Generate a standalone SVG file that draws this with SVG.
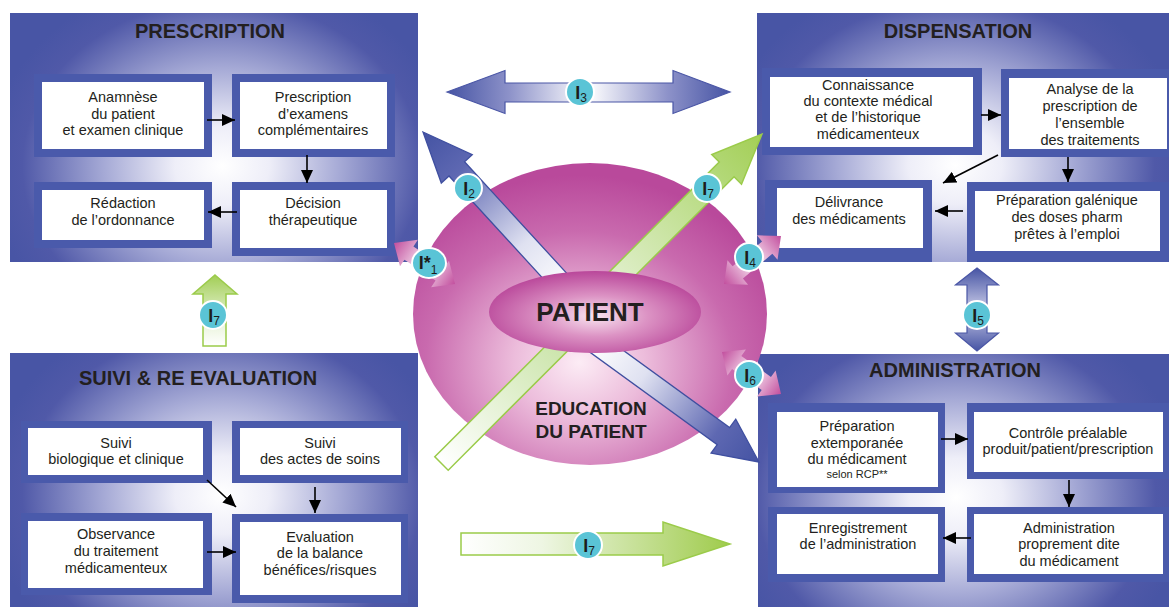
<svg xmlns="http://www.w3.org/2000/svg" width="1169" height="607" viewBox="0 0 1169 607">
<style>
.title{font-family:"Liberation Sans",Arial,sans-serif;font-weight:bold;font-size:20px;fill:#231f20;text-anchor:middle}
.lbl{font-family:"Liberation Sans",Arial,sans-serif;font-size:14.5px;fill:#231f20;text-anchor:middle}
.small{font-size:11px}
.frame{fill:#4a5aab}
.inner{fill:#ffffff}
.flow{stroke:#000;stroke-width:1.6;fill:none;marker-end:url(#ah)}
.badge{fill:#5ac4d6;stroke:#ffffff;stroke-width:2}
.btxt{font-family:"Liberation Sans",Arial,sans-serif;font-weight:bold;font-size:18px;fill:#1d1d1b;text-anchor:middle}
.sub{font-size:12px;font-weight:normal}
.big{font-family:"Liberation Sans",Arial,sans-serif;font-weight:bold;fill:#231f20;text-anchor:middle}
</style>
<defs>
<marker id="ah" viewBox="0 0 13 12" refX="13" refY="6" markerWidth="13" markerHeight="12" markerUnits="userSpaceOnUse" orient="auto">
<path d="M0,0 L13,6 L0,12 Z" fill="#000"/>
</marker>
<radialGradient id="g1" gradientUnits="userSpaceOnUse" cx="0" cy="0" r="1" gradientTransform="translate(222 166) scale(235 195)">
<stop offset="0" stop-color="#ffffff"/><stop offset="0.2" stop-color="#eeeef8"/><stop offset="0.5" stop-color="#a6aad6"/><stop offset="0.85" stop-color="#5059a8"/><stop offset="1" stop-color="#4855a5"/>
</radialGradient>
<radialGradient id="g2" gradientUnits="userSpaceOnUse" cx="0" cy="0" r="1" gradientTransform="translate(955 165) scale(235 195)">
<stop offset="0" stop-color="#ffffff"/><stop offset="0.2" stop-color="#eeeef8"/><stop offset="0.5" stop-color="#a6aad6"/><stop offset="0.85" stop-color="#5059a8"/><stop offset="1" stop-color="#4855a5"/>
</radialGradient>
<radialGradient id="g3" gradientUnits="userSpaceOnUse" cx="0" cy="0" r="1" gradientTransform="translate(222 495) scale(235 195)">
<stop offset="0" stop-color="#ffffff"/><stop offset="0.2" stop-color="#eeeef8"/><stop offset="0.5" stop-color="#a6aad6"/><stop offset="0.85" stop-color="#5059a8"/><stop offset="1" stop-color="#4855a5"/>
</radialGradient>
<radialGradient id="g4" gradientUnits="userSpaceOnUse" cx="0" cy="0" r="1" gradientTransform="translate(956 497) scale(235 195)">
<stop offset="0" stop-color="#ffffff"/><stop offset="0.2" stop-color="#eeeef8"/><stop offset="0.5" stop-color="#a6aad6"/><stop offset="0.85" stop-color="#5059a8"/><stop offset="1" stop-color="#4855a5"/>
</radialGradient>
<radialGradient id="gCircle" cx="0.47" cy="0.66" r="0.62">
<stop offset="0" stop-color="#fcecf5"/><stop offset="0.3" stop-color="#ecbcdb"/><stop offset="0.7" stop-color="#c96aae"/><stop offset="1" stop-color="#b9499b"/>
</radialGradient>
<radialGradient id="gPat" cx="0.5" cy="0.55" r="0.55">
<stop offset="0" stop-color="#f8e4f0"/><stop offset="0.45" stop-color="#dc93c4"/><stop offset="1" stop-color="#b9479a"/>
</radialGradient>
<linearGradient id="gBlueA" x1="0" y1="0" x2="1" y2="0">
<stop offset="0" stop-color="#4453a3"/><stop offset="0.25" stop-color="#5e68b2"/><stop offset="0.7" stop-color="#dfe1f1"/><stop offset="1" stop-color="#ffffff"/>
</linearGradient>
<linearGradient id="gGreenA" x1="0" y1="0" x2="1" y2="0">
<stop offset="0" stop-color="#a3ce55"/><stop offset="0.3" stop-color="#b4d97a"/><stop offset="1" stop-color="#e2f0cf"/>
</linearGradient>
<linearGradient id="gGreenBar" x1="0" y1="0" x2="1" y2="0">
<stop offset="0" stop-color="#ffffff"/><stop offset="1" stop-color="#c6e2a2"/>
</linearGradient>
<linearGradient id="gGreenH" x1="0" y1="0" x2="1" y2="0">
<stop offset="0" stop-color="#ffffff"/><stop offset="0.3" stop-color="#eef6e3"/><stop offset="1" stop-color="#9fcb4c"/>
</linearGradient>
<linearGradient id="gGreenV" x1="0" y1="1" x2="0" y2="0">
<stop offset="0" stop-color="#ffffff"/><stop offset="0.4" stop-color="#e4f1d2"/><stop offset="1" stop-color="#a2ce55"/>
</linearGradient>
<linearGradient id="gBlueH" x1="0" y1="0" x2="1" y2="0">
<stop offset="0" stop-color="#4654a4"/><stop offset="0.22" stop-color="#8d92c9"/><stop offset="0.5" stop-color="#ffffff"/><stop offset="0.78" stop-color="#8d92c9"/><stop offset="1" stop-color="#4654a4"/>
</linearGradient>
<linearGradient id="gBlueV" x1="0" y1="0" x2="0" y2="1">
<stop offset="0" stop-color="#4654a4"/><stop offset="0.5" stop-color="#c9cbe7"/><stop offset="1" stop-color="#4654a4"/>
</linearGradient>
<linearGradient id="gPink" x1="0" y1="0" x2="1" y2="0">
<stop offset="0" stop-color="#c24f9e"/><stop offset="0.5" stop-color="#fbeef6"/><stop offset="1" stop-color="#c24f9e"/>
</linearGradient>
</defs>

<rect width="1169" height="607" fill="#ffffff"/>

<!-- PRESCRIPTION -->
<g id="prescription">
<rect x="10" y="13" width="408" height="249" fill="url(#g1)"/>
<text class="title" x="210" y="38">PRESCRIPTION</text>
<g id="p-anamnese"><rect class="frame" x="34" y="74" width="178" height="83"/><rect class="inner" x="42" y="82" width="162" height="67"/>
<text class="lbl" x="123" y="102">Anamnèse</text><text class="lbl" x="123" y="119">du patient</text><text class="lbl" x="123" y="135">et examen clinique</text></g>
<g id="p-examens"><rect class="frame" x="232" y="74" width="163" height="83"/><rect class="inner" x="240" y="82" width="147" height="67"/>
<text class="lbl" x="313" y="102">Prescription</text><text class="lbl" x="313" y="119">d’examens</text><text class="lbl" x="313" y="135">complémentaires</text></g>
<g id="p-redaction"><rect class="frame" x="34" y="182" width="178" height="66"/><rect class="inner" x="42" y="190" width="162" height="50"/>
<text class="lbl" x="123" y="208">Rédaction</text><text class="lbl" x="123" y="225">de l’ordonnance</text></g>
<g id="p-decision"><rect class="frame" x="232" y="182" width="163" height="74"/><rect class="inner" x="240" y="190" width="147" height="58"/>
<text class="lbl" x="313" y="208">Décision</text><text class="lbl" x="313" y="225">thérapeutique</text></g>
</g>

<!-- DISPENSATION -->
<g id="dispensation">
<rect x="757" y="13" width="412" height="249" fill="url(#g2)"/>
<text class="title" x="958" y="38">DISPENSATION</text>
<g id="d-connaissance"><rect class="frame" x="762" y="68" width="220" height="87"/><rect class="inner" x="770" y="77" width="203" height="70"/>
<text class="lbl" x="868" y="90">Connaissance</text><text class="lbl" x="868" y="106">du contexte médical</text><text class="lbl" x="868" y="122">et de l’historique</text><text class="lbl" x="868" y="139">médicamenteux</text></g>
<g id="d-analyse"><rect class="frame" x="1001" y="69" width="168" height="88"/><rect class="inner" x="1009" y="78" width="158" height="71"/>
<text class="lbl" x="1090" y="94">Analyse de la</text><text class="lbl" x="1090" y="111">prescription de</text><text class="lbl" x="1090" y="128">l’ensemble</text><text class="lbl" x="1090" y="145">des traitements</text></g>
<g id="d-delivrance"><rect class="frame" x="765" y="180" width="167" height="82"/><rect class="inner" x="777" y="188" width="146" height="60"/>
<text class="lbl" x="849" y="207">Délivrance</text><text class="lbl" x="849" y="224">des médicaments</text></g>
<g id="d-preparation"><rect class="frame" x="967" y="182" width="202" height="80"/><rect class="inner" x="975" y="191" width="185" height="60"/>
<text class="lbl" x="1067" y="205">Préparation galénique</text><text class="lbl" x="1067" y="222">des doses pharm</text><text class="lbl" x="1067" y="239">prêtes à l’emploi</text></g>
</g>

<!-- SUIVI -->
<g id="suivi">
<rect x="10" y="353" width="408" height="254" fill="url(#g3)"/>
<text class="title" x="198" y="385">SUIVI &amp; RE EVALUATION</text>
<g id="s-bio"><rect class="frame" x="21" y="421" width="191" height="62"/><rect class="inner" x="28" y="428" width="175" height="47"/>
<text class="lbl" x="116" y="448">Suivi</text><text class="lbl" x="116" y="464">biologique et clinique</text></g>
<g id="s-soins"><rect class="frame" x="232" y="421" width="176" height="62"/><rect class="inner" x="240" y="428" width="161" height="47"/>
<text class="lbl" x="320" y="448">Suivi</text><text class="lbl" x="320" y="464">des actes de soins</text></g>
<g id="s-observance"><rect class="frame" x="21" y="513" width="191" height="82"/><rect class="inner" x="28" y="521" width="175" height="67"/>
<text class="lbl" x="116" y="539">Observance</text><text class="lbl" x="116" y="556">du traitement</text><text class="lbl" x="116" y="573">médicamenteux</text></g>
<g id="s-evaluation"><rect class="frame" x="232" y="514" width="176" height="89"/><rect class="inner" x="240" y="522" width="161" height="73"/>
<text class="lbl" x="320" y="542">Evaluation</text><text class="lbl" x="320" y="558">de la balance</text><text class="lbl" x="320" y="575">bénéfices/risques</text></g>
</g>

<!-- ADMINISTRATION -->
<g id="administration">
<rect x="758" y="354" width="411" height="253" fill="url(#g4)"/>
<text class="title" x="955" y="377">ADMINISTRATION</text>
<g id="a-preparation"><rect class="frame" x="768" y="403" width="177" height="90"/><rect class="inner" x="777" y="412" width="161" height="75"/>
<text class="lbl" x="857" y="431">Préparation</text><text class="lbl" x="857" y="448">extemporanée</text><text class="lbl" x="857" y="464">du médicament</text><text class="lbl small" x="857" y="478">selon RCP**</text></g>
<g id="a-controle"><rect class="frame" x="967" y="403" width="202" height="76"/><rect class="inner" x="974" y="412" width="189" height="60"/>
<text class="lbl" x="1068" y="438">Contrôle préalable</text><text class="lbl" x="1068" y="454">produit/patient/prescription</text></g>
<g id="a-enregistrement"><rect class="frame" x="768" y="507" width="177" height="75"/><rect class="inner" x="777" y="514" width="161" height="60"/>
<text class="lbl" x="858" y="533">Enregistrement</text><text class="lbl" x="858" y="549">de l’administration</text></g>
<g id="a-administration"><rect class="frame" x="967" y="507" width="202" height="75"/><rect class="inner" x="974" y="514" width="189" height="60"/>
<text class="lbl" x="1069" y="533">Administration</text><text class="lbl" x="1069" y="549">proprement dite</text><text class="lbl" x="1069" y="566">du médicament</text></g>
</g>

<!-- PATIENT circle -->
<g id="education">
<ellipse cx="590" cy="314" rx="177" ry="151" fill="url(#gCircle)"/>
</g>

<g id="connectors">
<!-- inner flows -->
<line class="flow" x1="207" y1="120" x2="235" y2="120"/>
<line class="flow" x1="307" y1="155" x2="307" y2="183"/>
<line class="flow" x1="237" y1="212" x2="208" y2="212"/>
<line class="flow" x1="981" y1="115" x2="1001" y2="115"/>
<line class="flow" x1="998" y1="155" x2="943" y2="183"/>
<line class="flow" x1="1068" y1="157" x2="1068" y2="182"/>
<line class="flow" x1="963" y1="211" x2="935" y2="211"/>
<line class="flow" x1="207" y1="480" x2="236" y2="507"/>
<line class="flow" x1="315" y1="487" x2="315" y2="513"/>
<line class="flow" x1="207" y1="552" x2="236" y2="552"/>
<line class="flow" x1="941" y1="439" x2="968" y2="439"/>
<line class="flow" x1="1069" y1="480" x2="1069" y2="507"/>
<line class="flow" x1="971" y1="538" x2="943" y2="538"/>

<!-- I3 -->
<path d="M447,92 L505,70.5 L505,83 L673,83 L673,70.5 L730,92 L673,113.5 L673,102 L505,102 L505,113.5 Z" fill="url(#gBlueH)" stroke="#4a56a6" stroke-width="1.2"/>
<!-- I5 -->
<path d="M977,268 L998.5,285 L987,285 L987,333 L998.5,333 L977,351 L955.5,333 L967,333 L967,285 L955.5,285 Z" fill="url(#gBlueV)" stroke="#4a56a6" stroke-width="1.2"/>
<!-- I7 left up -->
<path d="M215,275 L237,294 L226,294 L226,346 L203,346 L203,294 L193,294 Z" fill="url(#gGreenV)" stroke="#9bcb4a" stroke-width="1.5"/>
<!-- I7 bottom -->
<path d="M461,533 L663,533 L663,522 L730,544 L663,566 L663,555 L461,555 Z" fill="url(#gGreenH)" stroke="#9bcb4a" stroke-width="1.5"/>

<!-- diagonal arrows through patient -->
<g transform="translate(441.5,463.5) rotate(-45)"><rect x="0" y="-9.5" width="185" height="19" fill="url(#gGreenBar)" stroke="#9bcb4a" stroke-width="1.5"/></g>
<g transform="translate(423,132) rotate(47.5)"><path d="M0,0 L50,-21 L50,-10.5 L215,-10.5 L215,10.5 L50,10.5 L50,21 Z" fill="url(#gBlueA)" stroke="#3f4fa0" stroke-width="1.3"/></g>
<g transform="translate(759,462) rotate(216)"><path d="M0,0 L44,-21 L44,-10.5 L205,-10.5 L205,10.5 L44,10.5 L44,21 Z" fill="url(#gBlueA)" stroke="#3f4fa0" stroke-width="1.3"/></g>
<g transform="translate(762,134) rotate(135)"><path d="M0,0 L50,-21 L50,-10.5 L215,-10.5 L215,10.5 L50,10.5 L50,21 Z" fill="url(#gGreenA)" stroke="#9bcb4a" stroke-width="1.5"/></g>

<!-- pink double arrows -->
<g transform="translate(394,243) rotate(33.9)"><path d="M0,0 L18,-16 L18,-8 L55.5,-8 L55.5,-16 L73.5,0 L55.5,16 L55.5,8 L18,8 L18,16 Z" fill="url(#gPink)"/></g>
<g transform="translate(724,284) rotate(-40.1)"><path d="M0,0 L18,-16 L18,-8 L56.5,-8 L56.5,-16 L74.5,0 L56.5,16 L56.5,8 L18,8 L18,16 Z" fill="url(#gPink)"/></g>
<g transform="translate(722,352) rotate(35.4)"><path d="M0,0 L18,-16 L18,-8 L54.4,-8 L54.4,-16 L72.4,0 L54.4,16 L54.4,8 L18,8 L18,16 Z" fill="url(#gPink)"/></g>
</g>

<g id="patient">
<ellipse cx="595" cy="312" rx="106" ry="41" fill="url(#gPat)"/>
<text class="big" x="590" y="321" font-size="26">PATIENT</text>
</g>
<g id="education-label">
<text class="big" x="591" y="415" font-size="19">EDUCATION</text>
<text class="big" x="591" y="438" font-size="19">DU PATIENT</text>
</g>

<g id="badges">
<g><ellipse class="badge" cx="429" cy="263" rx="17" ry="15"/><text class="btxt" x="428" y="269">I*<tspan class="sub" font-size="13" dy="5">1</tspan></text></g>
<g><circle class="badge" cx="468" cy="188" r="14"/><text class="btxt" x="469" y="194.5">I<tspan class="sub" dy="3">2</tspan></text></g>
<g><circle class="badge" cx="580" cy="92" r="14"/><text class="btxt" x="581" y="98.5">I<tspan class="sub" dy="3">3</tspan></text></g>
<g><circle class="badge" cx="707" cy="188" r="14"/><text class="btxt" x="708" y="194.5">I<tspan class="sub" dy="3">7</tspan></text></g>
<g><circle class="badge" cx="749" cy="257" r="14"/><text class="btxt" x="750" y="263.5">I<tspan class="sub" dy="3">4</tspan></text></g>
<g><circle class="badge" cx="977" cy="315" r="14"/><text class="btxt" x="978" y="321.5">I<tspan class="sub" dy="3">5</tspan></text></g>
<g><circle class="badge" cx="749" cy="375" r="14"/><text class="btxt" x="750" y="381.5">I<tspan class="sub" dy="3">6</tspan></text></g>
<g><circle class="badge" cx="213" cy="315" r="14"/><text class="btxt" x="214" y="321.5">I<tspan class="sub" dy="3">7</tspan></text></g>
<g><circle class="badge" cx="588" cy="545" r="14"/><text class="btxt" x="589" y="551.5">I<tspan class="sub" dy="3">7</tspan></text></g>
</g>
</svg>
